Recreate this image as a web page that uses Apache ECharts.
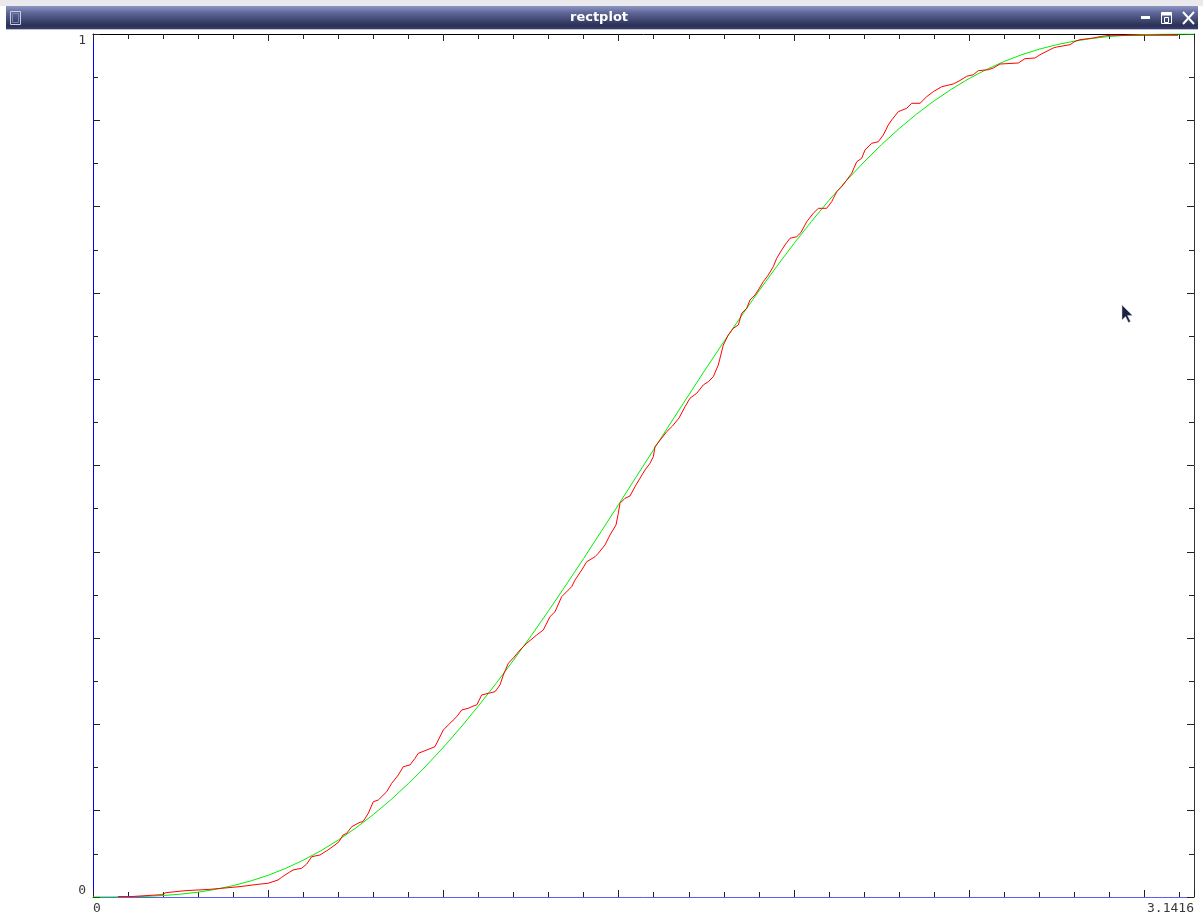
<!DOCTYPE html>
<html>
<head>
<meta charset="utf-8">
<title>rectplot</title>
<script src="https://cdn.jsdelivr.net/npm/echarts@6/dist/echarts.min.js"></script>
<style>
  html, body { margin: 0; padding: 0; background: #ffffff; }
  #chart { width: 1203px; height: 916px; }
</style>
</head>
<body>
<div id="chart"></div>
<script>
// Horizontal range (radians) and end-of-axis labels
const xMin = 0;
const xMax = 3.1416;
const xTickLabels = ['0', '3.1416'];
const yTickLabels = ['0', '1'];

// Smooth model distribution, sampled every 0.05 rad
const modelX = [0, 0.05, 0.1, 0.15, 0.2, 0.25, 0.3, 0.35, 0.4, 0.45,
  0.5, 0.55, 0.6, 0.65, 0.7, 0.75, 0.8, 0.85, 0.9, 0.95,
  1.0, 1.05, 1.1, 1.15, 1.2, 1.25, 1.3, 1.35, 1.4, 1.45,
  1.5, 1.55, 1.6, 1.65, 1.7, 1.75, 1.8, 1.85, 1.9, 1.95,
  2.0, 2.05, 2.1, 2.15, 2.2, 2.25, 2.3, 2.35, 2.4, 2.45,
  2.5, 2.55, 2.6, 2.65, 2.7, 2.75, 2.8, 2.85, 2.9, 2.95,
  3.0, 3.05, 3.1, 3.1416];
const modelY = [0, 0.0000, 0.0002, 0.0007, 0.0017, 0.0033, 0.0056, 0.0089, 0.0132, 0.0186,
  0.0252, 0.0332, 0.0427, 0.0535, 0.0660, 0.0800, 0.0956, 0.1127, 0.1315, 0.1518,
  0.1736, 0.1968, 0.2215, 0.2474, 0.2745, 0.3026, 0.3318, 0.3617, 0.3923, 0.4235,
  0.4550, 0.4868, 0.5186, 0.5503, 0.5818, 0.6129, 0.6434, 0.6732, 0.7022, 0.7302,
  0.7571, 0.7828, 0.8072, 0.8302, 0.8517, 0.8718, 0.8903, 0.9072, 0.9225, 0.9362,
  0.9484, 0.9590, 0.9682, 0.9760, 0.9824, 0.9876, 0.9917, 0.9948, 0.9971, 0.9985,
  0.9994, 0.9998, 1.0000, 1.0000];

// Empirical cumulative distribution of the samples
const sampleX = [0.0713, 0.1084, 0.1104, 0.1960, 0.1969, 0.2083, 0.2625, 0.3338, 0.3672, 0.4166,
  0.4708, 0.4993, 0.5279, 0.5384, 0.5479, 0.5707, 0.5955, 0.6098, 0.6240, 0.6477,
  0.6705, 0.6905, 0.7019, 0.7134, 0.7239, 0.7382, 0.7619, 0.7704, 0.7855, 0.7998,
  0.8141, 0.8380, 0.8523, 0.8712, 0.8854, 0.9045, 0.9188, 0.9282, 0.9522, 0.9759,
  0.9853, 0.9996, 1.0138, 1.0281, 1.0378, 1.0521, 1.0709, 1.0852, 1.0949, 1.1091,
  1.1280, 1.1471, 1.1613, 1.1708, 1.1850, 1.1993, 1.2184, 1.2375, 1.2661, 1.2849,
  1.3040, 1.3183, 1.3374, 1.3659, 1.3753, 1.3945, 1.4087, 1.4324, 1.4419, 1.4609,
  1.4752, 1.4923, 1.4989, 1.5037, 1.5180, 1.5323, 1.5465, 1.5608, 1.5751, 1.5893,
  1.5988, 1.6036, 1.6207, 1.6370, 1.6535, 1.6721, 1.6892, 1.7035, 1.7226, 1.7414,
  1.7557, 1.7700, 1.7843, 1.7985, 1.8128, 1.8270, 1.8413, 1.8510, 1.8653, 1.8747,
  1.8890, 1.8984, 1.9126, 1.9269, 1.9412, 1.9509, 1.9651, 1.9746, 1.9888, 2.0080,
  2.0202, 2.0365, 2.0553, 2.0696, 2.0935, 2.1078, 2.1221, 2.1363, 2.1506, 2.1649,
  2.1792, 2.1934, 2.2028, 2.2219, 2.2408, 2.2551, 2.2693, 2.2790, 2.2979, 2.3218,
  2.3361, 2.3598, 2.3789, 2.3978, 2.4217, 2.4548, 2.4739, 2.4930, 2.5119, 2.5261,
  2.5547, 2.5690, 2.5880, 2.6403, 2.6594, 2.6879, 2.7022, 2.7401, 2.7498, 2.7878,
  2.8020, 2.8163, 2.8400, 2.8543, 2.8782, 2.9019, 3.0959];
const sampleY = [0.0005, 0.0005, 0.0027, 0.0027, 0.0035, 0.0050, 0.0073, 0.0089, 0.0101, 0.0119,
  0.0147, 0.0159, 0.0197, 0.0228, 0.0255, 0.0313, 0.0333, 0.0382, 0.0467, 0.0487,
  0.0545, 0.0603, 0.0641, 0.0718, 0.0738, 0.0815, 0.0866, 0.0873, 0.0970, 0.1104,
  0.1124, 0.1220, 0.1317, 0.1414, 0.1510, 0.1530, 0.1607, 0.1665, 0.1703, 0.1742,
  0.1819, 0.1935, 0.1993, 0.2051, 0.2089, 0.2167, 0.2187, 0.2213, 0.2225, 0.2341,
  0.2360, 0.2379, 0.2457, 0.2572, 0.2708, 0.2769, 0.2862, 0.2940, 0.3036, 0.3094,
  0.3248, 0.3306, 0.3480, 0.3596, 0.3673, 0.3789, 0.3885, 0.3943, 0.3983, 0.4079,
  0.4195, 0.4311, 0.4446, 0.4562, 0.4620, 0.4647, 0.4754, 0.4852, 0.4948, 0.5025,
  0.5102, 0.5218, 0.5307, 0.5392, 0.5458, 0.5550, 0.5681, 0.5779, 0.5837, 0.5933,
  0.5971, 0.6029, 0.6165, 0.6396, 0.6512, 0.6590, 0.6628, 0.6764, 0.6822, 0.6918,
  0.6976, 0.7034, 0.7130, 0.7207, 0.7304, 0.7401, 0.7497, 0.7555, 0.7633, 0.7651,
  0.7700, 0.7825, 0.7922, 0.7980, 0.7980, 0.8057, 0.8173, 0.8231, 0.8308, 0.8386,
  0.8520, 0.8560, 0.8656, 0.8733, 0.8752, 0.8830, 0.8946, 0.9004, 0.9100, 0.9139,
  0.9197, 0.9197, 0.9274, 0.9332, 0.9389, 0.9421, 0.9461, 0.9510, 0.9528, 0.9575,
  0.9586, 0.9606, 0.9652, 0.9664, 0.9714, 0.9722, 0.9760, 0.9838, 0.9849, 0.9876,
  0.9915, 0.9934, 0.9946, 0.9954, 0.9973, 0.9985, 0.9985];

const zip = (xs, ys) => xs.map((x, i) => [x, ys[i]]);

const labelFont = { fontFamily: 'DejaVu Sans Mono', fontSize: 13, color: '#3a3a3a' };
const tickColor = '#222222';

function xLabel(v) {
  if (Math.abs(v - xMin) < 1e-9) return xTickLabels[0];
  if (Math.abs(v - xMax) < 1e-9) return xTickLabels[1];
  return '';
}
function yLabel(v) {
  if (Math.abs(v) < 1e-9) return yTickLabels[0];
  if (Math.abs(v - 1) < 1e-9) return yTickLabels[1];
  return '';
}

// x axes: bottom/top, fine ticks every 0.1 and longer ones every 0.5
function xAxisDef(position, interval, tickLen, lineColor, withLabels) {
  return {
    type: 'value', position, min: xMin, max: xMax, interval,
    axisLine: { show: !!lineColor, onZero: false, lineStyle: { color: lineColor || '#000', width: 1 } },
    axisTick: { show: true, inside: true, length: tickLen, lineStyle: { color: tickColor, width: 1 } },
    axisLabel: withLabels ? Object.assign({
      show: true, margin: 5, formatter: xLabel, showMinLabel: true, showMaxLabel: true,
      alignMinLabel: 'left', alignMaxLabel: 'right'
    }, labelFont) : { show: false },
    splitLine: { show: false }
  };
}
// y axes: left/right, fine ticks every 0.05 and longer ones every 0.1
function yAxisDef(position, interval, tickLen, lineColor, withLabels) {
  return {
    type: 'value', position, min: 0, max: 1, interval,
    axisLine: { show: !!lineColor, onZero: false, lineStyle: { color: lineColor || '#000', width: 1 } },
    axisTick: { show: true, inside: true, length: tickLen, lineStyle: { color: tickColor, width: 1 } },
    axisLabel: withLabels ? Object.assign({
      show: true, margin: 7, formatter: yLabel, showMinLabel: true, showMaxLabel: true,
      verticalAlignMinLabel: 'bottom', verticalAlignMaxLabel: 'top'
    }, labelFont) : { show: false },
    splitLine: { show: false }
  };
}

const chart = echarts.init(document.getElementById('chart'), null, { renderer: 'canvas' });

chart.setOption({
  animation: false,
  backgroundColor: '#ffffff',
  grid: { left: 93, right: 9, top: 34, bottom: 19, containLabel: false },
  xAxis: [
    xAxisDef('bottom', 0.1, 5, '#5c5cff', true),
    xAxisDef('bottom', 0.5, 7, null, false),
    xAxisDef('top', 0.1, 5, '#000000', false),
    xAxisDef('top', 0.5, 7, null, false)
  ],
  yAxis: [
    yAxisDef('left', 0.05, 5, '#0000ff', true),
    yAxisDef('left', 0.1, 7, null, false),
    yAxisDef('right', 0.05, 5, '#333333', false),
    yAxisDef('right', 0.1, 7, null, false)
  ],
  series: [
    {
      name: 'model', type: 'line', xAxisIndex: 0, yAxisIndex: 0,
      data: zip(modelX, modelY), showSymbol: false, smooth: false,
      lineStyle: { color: '#00ee00', width: 1 }, z: 3
    },
    {
      name: 'samples', type: 'line', xAxisIndex: 0, yAxisIndex: 0,
      data: zip(sampleX, sampleY), showSymbol: false,
      lineStyle: { color: '#ff0000', width: 1 }, z: 4
    }
  ],
  graphic: [
    // light strip above the window
    { type: 'rect', shape: { x: 0, y: 0, width: 1203, height: 6 }, style: { fill: '#e9e9ee' }, silent: true },
    // window title bar
    {
      type: 'rect', shape: { x: 6, y: 6, width: 1192, height: 23 }, silent: true,
      style: {
        fill: new echarts.graphic.LinearGradient(0, 0, 0, 1, [
          { offset: 0, color: '#8e97c2' },
          { offset: 0.3, color: '#5d6696' },
          { offset: 0.85, color: '#2a3056' },
          { offset: 1, color: '#39406a' }
        ])
      }
    },
    { type: 'rect', shape: { x: 6, y: 29, width: 1192, height: 1 }, style: { fill: '#b9bfd9' }, silent: true },
    {
      type: 'text', x: 599, y: 18, silent: true,
      style: {
        text: 'rectplot', fill: '#ffffff', font: 'bold 13px "DejaVu Sans"',
        textAlign: 'center', textVerticalAlign: 'middle',
        textShadowColor: '#1a1e38', textShadowBlur: 0, textShadowOffsetX: 1, textShadowOffsetY: 1
      }
    },
    // window menu icon
    { type: 'rect', shape: { x: 10.5, y: 11.5, width: 10, height: 13 }, style: { fill: 'none', stroke: '#c9cee6', lineWidth: 1 }, silent: true },
    { type: 'rect', shape: { x: 12.5, y: 13.5, width: 6, height: 9 }, style: { fill: 'none', stroke: '#7b83ad', lineWidth: 1 }, silent: true },
    // minimize / restore / close buttons
    { type: 'rect', shape: { x: 1141, y: 16, width: 9, height: 3 }, style: { fill: '#ffffff' }, silent: true },
    { type: 'rect', shape: { x: 1161.5, y: 12.5, width: 10, height: 11 }, style: { fill: 'none', stroke: '#ffffff', lineWidth: 1 }, silent: true },
    { type: 'rect', shape: { x: 1161.5, y: 12.5, width: 10, height: 3 }, style: { fill: '#ffffff' }, silent: true },
    { type: 'rect', shape: { x: 1164.5, y: 17.5, width: 4, height: 5 }, style: { fill: 'none', stroke: '#ffffff', lineWidth: 1 }, silent: true },
    { type: 'line', shape: { x1: 1183, y1: 12, x2: 1194, y2: 24 }, style: { stroke: '#ffffff', lineWidth: 2 }, silent: true },
    { type: 'line', shape: { x1: 1194, y1: 12, x2: 1183, y2: 24 }, style: { stroke: '#ffffff', lineWidth: 2 }, silent: true },
    // mouse pointer
    {
      type: 'polygon', silent: true,
      shape: { points: [[1122, 305], [1122, 320], [1125.5, 316.5], [1128.5, 322.5], [1130.5, 321.5], [1127.5, 315.5], [1132.5, 315.5]] },
      style: { fill: '#1c2144', stroke: '#c8cbe0', lineWidth: 0.5 }
    }
  ]
});
</script>
</body>
</html>
